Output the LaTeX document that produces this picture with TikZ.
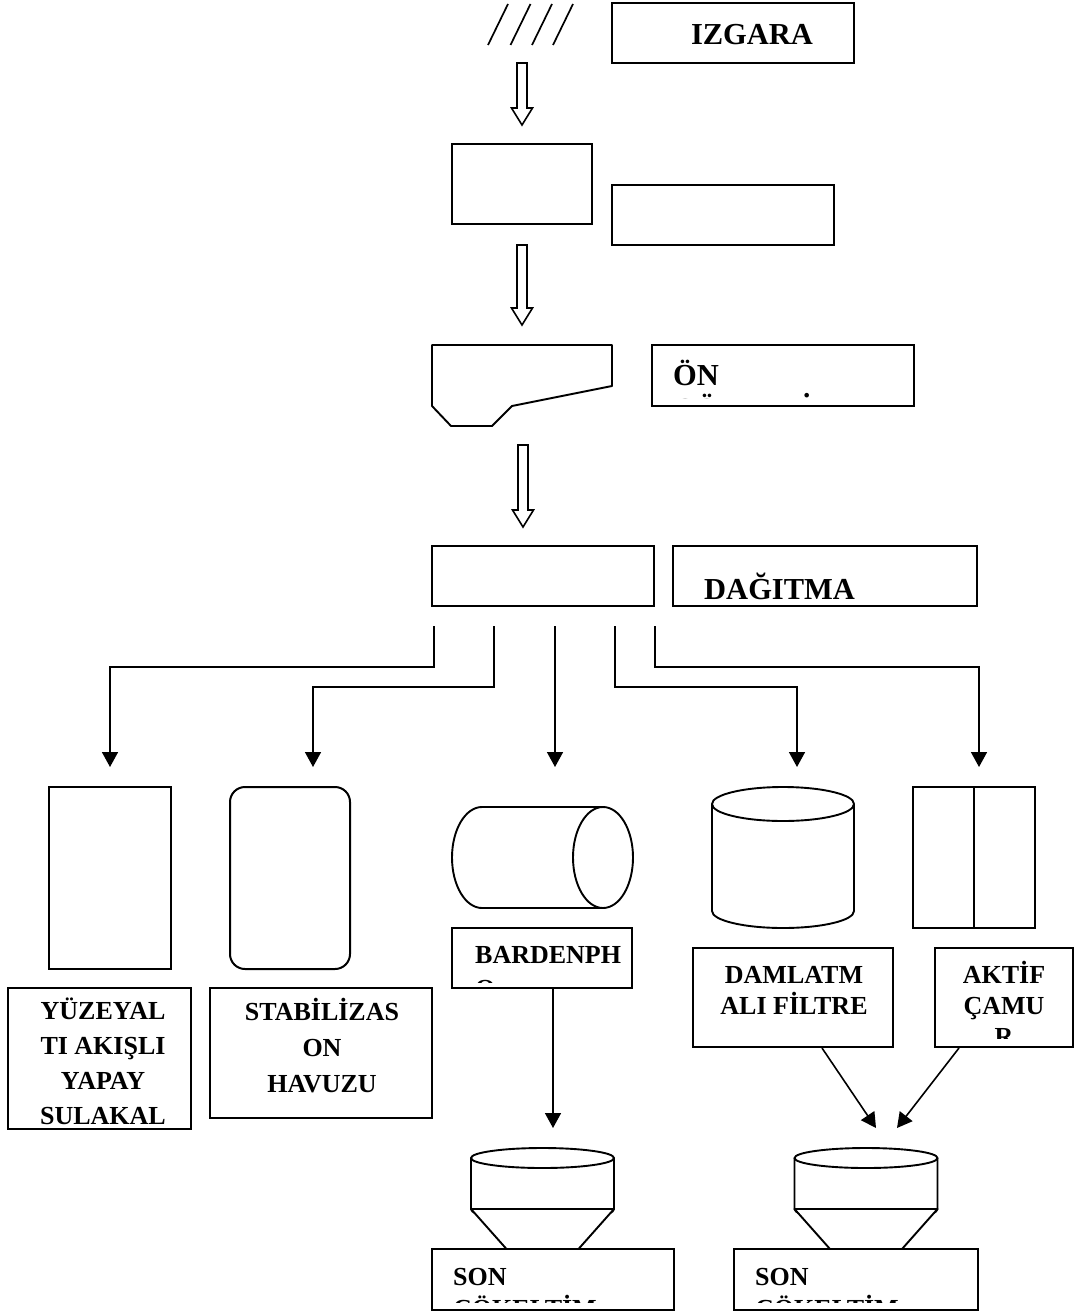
\documentclass[tikz,border=0pt]{standalone}
\usepackage{fontspec}
\setmainfont{Liberation Serif}
\usetikzlibrary{arrows.meta,calc}

\tikzset{
  box/.style={draw, line width=2pt, rectangle, inner sep=0pt},
  bigtxt/.style={font=\fontsize{30.5}{34}\selectfont\bfseries, inner sep=0pt, align=left},
  lbltxt/.style={font=\fontsize{26}{33}\selectfont\bfseries, inner sep=0pt, align=center},
  tank/.style={draw, line width=1.9pt, line join=round},
  flow/.style={draw, line width=1.6pt, -{Triangle[length=15pt,width=16pt]}},
  blockarrow/.pic={
    \draw[line width=1.6pt, fill=white]
      (-5,0) -- (5,0) -- (5,#1-17) -- (10.5,#1-17) -- (0,#1) -- (-10.5,#1-17) -- (-5,#1-17) -- cycle;
  },
}

\begin{document}
\begin{tikzpicture}[x=1pt, y=-1pt]
  \useasboundingbox (0,0) rectangle (1074,1311);
  % bar screen
  \foreach \xb in {488,510.5,532,553}
    \draw[line width=1.7pt] (\xb,45) -- (\xb+20,4);
  \node[box, minimum width=242pt, minimum height=60pt] (izgara) at (733,33) {};
  \node[bigtxt, anchor=base] (izgaratxt) at (752,45) {IZGARA};
  \pic (ok1) at (522,63) {blockarrow=62};
  % grit chamber
  \node[box, minimum width=140pt, minimum height=80pt] (kum) at (522,184) {};
  \node[box, minimum width=222pt, minimum height=60pt] (kumlbl) at (723,215) {};
  \pic (ok2) at (522,245) {blockarrow=80};
  % primary settling
  \draw[tank] (432,345) -- (612,345) -- (612,386) -- (512,406) -- (492,426) -- (451,426) -- (432,406) -- cycle;
  \node[box, minimum width=262pt, minimum height=61pt] (onlbl) at (783,375.5) {};
  \begin{scope}
    \clip (onlbl.north west) rectangle ([yshift=9pt]onlbl.south east);
    \node[bigtxt, anchor=base west] (ontxt) at (673,419) {ÖN\\ÇÖKELTİM};
  \end{scope}
  \pic (ok3) at (523,445) {blockarrow=82};
  % distribution
  \node[box, minimum width=222pt, minimum height=60pt] (dagit) at (543,576) {};
  \node[box, minimum width=304pt, minimum height=60pt] (dagitlbl) at (825,576) {};
  \node[bigtxt, anchor=base west] (dagittxt) at (704,599) {DAĞITMA};
  \coordinate (s1) at (434,626);
  \coordinate (s2) at (494,626);
  \coordinate (s3) at (555,626);
  \coordinate (s4) at (615,626);
  \coordinate (s5) at (655,626);
  \coordinate (e1) at (110,767);
  \coordinate (e2) at (313,767);
  \coordinate (e3) at (555,767);
  \coordinate (e4) at (797,767);
  \coordinate (e5) at (979,767);
  \draw[flow] (s1) -- ++(0,41) -| (e1);
  \draw[flow] (s2) -- ++(0,61) -| (e2);
  \draw[flow] (s3) -- (e3);
  \draw[flow] (s4) -- ++(0,61) -| (e4);
  \draw[flow] (s5) -- ++(0,41) -| (e5);
  % treatment units
  \node[box, minimum width=122pt, minimum height=182pt] (sulak) at (110,878) {};
  \node[box, rounded corners=15pt, minimum width=120pt, minimum height=182pt] (stab) at (290,878) {};
  \draw[tank] (482,807) -- (603,807) (603,908) -- (482,908) arc[start angle=90, end angle=270, x radius=30, y radius=50.5];
  \draw[tank] (603,857.5) ellipse[x radius=30, y radius=50.5];
  \draw[tank] (783,804) ellipse[x radius=71, y radius=17];
  \draw[tank] (712,804) -- (712,911) arc[start angle=180, end angle=0, x radius=71, y radius=17] -- (854,804);
  \node[box, minimum width=122pt, minimum height=141pt] (aktif) at (974,857.5) {};
  \draw[line width=2pt] (aktif.north) -- (aktif.south);
  % labels
  \node[box, minimum width=183pt, minimum height=141pt] (sulaklbl) at (99.5,1058.5) {};
  \node[lbltxt, font=\fontsize{26}{35}\selectfont\bfseries, anchor=base] (sulaktxt) at (103,1124) {YÜZEYAL\\TI AKIŞLI\\YAPAY\\SULAKAL};
  \node[box, minimum width=222pt, minimum height=130pt] (stablbl) at (321,1053) {};
  \node[lbltxt, font=\fontsize{26}{36}\selectfont\bfseries, anchor=base] (stabtxt) at (322,1092) {STABİLİZAS\\ON\\HAVUZU};
  \node[box, minimum width=180pt, minimum height=60pt] (bardlbl) at (542,958) {};
  \begin{scope}
    \clip (bardlbl.north west) rectangle ([yshift=7pt]bardlbl.south east);
    \node[lbltxt, align=left, font=\fontsize{26}{34}\selectfont\bfseries, anchor=base west] (bardtxt) at (475,997) {BARDENPH\\O};
  \end{scope}
  \node[box, minimum width=200pt, minimum height=99pt] (damllbl) at (793,997.5) {};
  \node[lbltxt, font=\fontsize{26}{31}\selectfont\bfseries, anchor=base] (damltxt) at (794,1014) {DAMLATM\\ALI FİLTRE};
  \node[box, minimum width=138pt, minimum height=99pt] (aktiflbl) at (1004,997.5) {};
  \begin{scope}
    \clip (aktiflbl.north west) rectangle ([yshift=10pt]aktiflbl.south east);
    \node[lbltxt, font=\fontsize{26}{31}\selectfont\bfseries, anchor=base] (aktiftxt) at (1004,1045) {AKTİF\\ÇAMU\\R};
  \end{scope}
  % final clarifiers
  \foreach \cx in {542.5,866} {
    \draw[tank] (\cx,1158) ellipse[x radius=71.5, y radius=10];
    \draw[tank] (\cx-71.5,1158) -- (\cx-71.5,1209) arc[start angle=180, end angle=0, x radius=71.5, y radius=12] -- (\cx+71.5,1158);
    \draw[tank, fill=white] (\cx-71.5,1209) -- (\cx+71.5,1209) -- (\cx+36,1249) -- (\cx-36,1249) -- cycle;
  }
  \coordinate (k1) at (553,1128);
  \coordinate (k2) at (876,1128);
  \coordinate (k3) at (897,1128);
  \draw[flow] ([xshift=11pt]bardlbl.south) -- (k1);
  \draw[flow] ([xshift=29pt]damllbl.south) -- (k2);
  \draw[flow] ([xshift=-45pt]aktiflbl.south) -- (k3);
  \node[box, minimum width=242pt, minimum height=61pt] (son1) at (553,1279.5) {};
  \node[box, minimum width=244pt, minimum height=61pt] (son2) at (856,1279.5) {};
  \begin{scope}
    \clip (son1.north west) rectangle ([yshift=9pt]son1.south east);
    \node[lbltxt, align=left, font=\fontsize{26}{32}\selectfont\bfseries, anchor=base west] (son1txt) at (453,1317) {SON\\ÇÖKELTİM};
  \end{scope}
  \begin{scope}
    \clip (son2.north west) rectangle ([yshift=9pt]son2.south east);
    \node[lbltxt, align=left, font=\fontsize{26}{32}\selectfont\bfseries, anchor=base west] (son2txt) at (755,1317) {SON\\ÇÖKELTİM};
  \end{scope}
\end{tikzpicture}
\end{document}
